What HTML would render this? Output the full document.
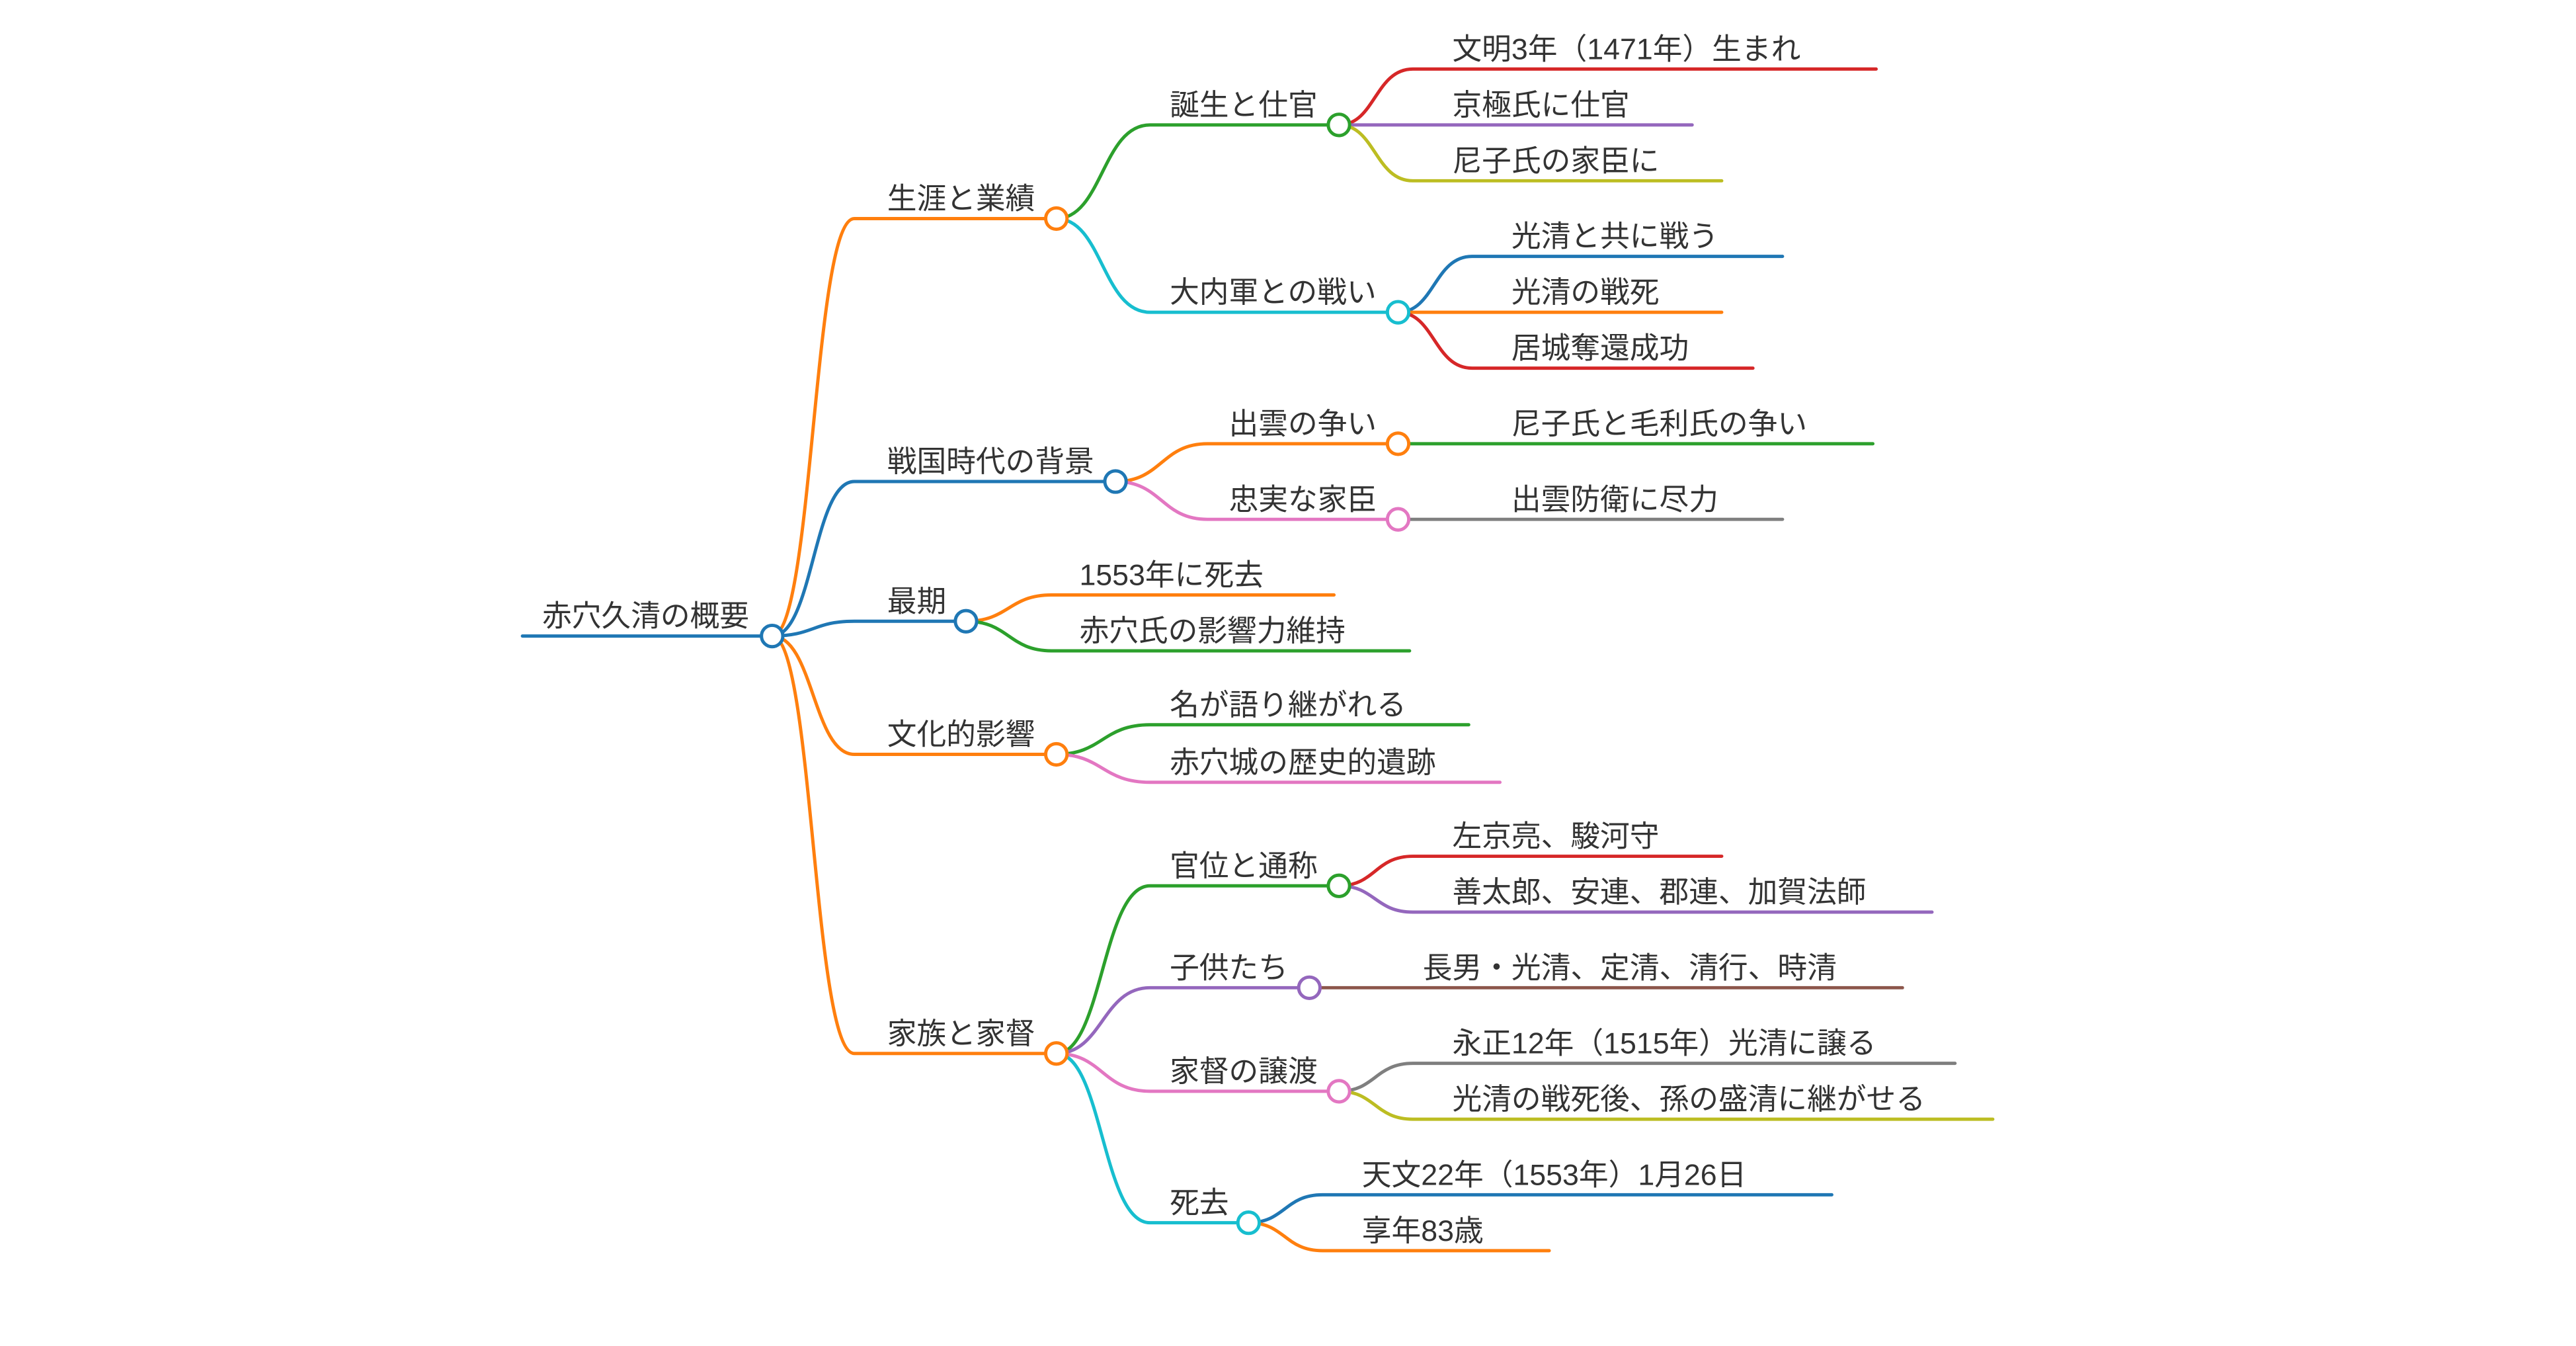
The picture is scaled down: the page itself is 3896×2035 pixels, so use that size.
<!DOCTYPE html>
<html><head><meta charset="utf-8"><style>
html,body{margin:0;padding:0;background:#fff;}
svg{display:block;}
text{font-family:"Liberation Sans","Noto Sans CJK JP",sans-serif;font-size:18px;fill:#333;}
path{fill:none;stroke-width:2;stroke-linecap:round;}
circle{fill:#fff;stroke-width:2;}
</style></head><body>
<svg width="3896" height="2035" viewBox="0 0 1568 819" preserveAspectRatio="none" xmlns="http://www.w3.org/2000/svg">
<!-- root -->
<path d="M318 387 H470" stroke="#1f77b4"/>
<text x="330" y="381">赤穴久清の概要</text>

<!-- level1 edges -->
<path d="M470 387 C495 387,495 133,520 133 H643" stroke="#ff7f0e"/>
<path d="M470 387 C495 387,495 293,520 293 H679" stroke="#1f77b4"/>
<path d="M470 387 C495 387,495 378,520 378 H588" stroke="#1f77b4"/>
<path d="M470 387 C495 387,495 459,520 459 H643" stroke="#ff7f0e"/>
<path d="M470 387 C495 387,495 641,520 641 H643" stroke="#ff7f0e"/>
<text x="540" y="127">生涯と業績</text>
<text x="540" y="287">戦国時代の背景</text>
<text x="540" y="372">最期</text>
<text x="540" y="453">文化的影響</text>
<text x="540" y="635">家族と家督</text>

<!-- 生涯と業績 children -->
<path d="M643 133 C671 133,671 76,700 76 H815" stroke="#2ca02c"/>
<path d="M643 133 C671 133,671 190,700 190 H851" stroke="#17becf"/>
<text x="712" y="70">誕生と仕官</text>
<text x="712" y="184">大内軍との戦い</text>
<path d="M815 76 C837 76,837 42,860 42 H1142" stroke="#d62728"/>
<path d="M815 76 H1030" stroke="#9467bd"/>
<path d="M815 76 C837 76,837 110,860 110 H1048" stroke="#bcbd22"/>
<text x="884" y="36">文明3年（1471年）生まれ</text>
<text x="884" y="70">京極氏に仕官</text>
<text x="884" y="104">尼子氏の家臣に</text>
<path d="M851 190 C873 190,873 156,896 156 H1085" stroke="#1f77b4"/>
<path d="M851 190 H1048" stroke="#ff7f0e"/>
<path d="M851 190 C873 190,873 224,896 224 H1067" stroke="#d62728"/>
<text x="920" y="150">光清と共に戦う</text>
<text x="920" y="184">光清の戦死</text>
<text x="920" y="218">居城奪還成功</text>

<!-- 戦国時代の背景 -->
<path d="M679 293 C707 293,707 270,735 270 H851" stroke="#ff7f0e"/>
<path d="M679 293 C707 293,707 316,735 316 H851" stroke="#e377c2"/>
<text x="748" y="264">出雲の争い</text>
<text x="748" y="310">忠実な家臣</text>
<path d="M851 270 H1140" stroke="#2ca02c"/>
<path d="M851 316 H1085" stroke="#7f7f7f"/>
<text x="920" y="264">尼子氏と毛利氏の争い</text>
<text x="920" y="310">出雲防衛に尽力</text>

<!-- 最期 -->
<path d="M588 378 C614 378,614 362,640 362 H812" stroke="#ff7f0e"/>
<path d="M588 378 C614 378,614 396,640 396 H858" stroke="#2ca02c"/>
<text x="657" y="356">1553年に死去</text>
<text x="657" y="390">赤穴氏の影響力維持</text>

<!-- 文化的影響 -->
<path d="M643 459 C671 459,671 441,700 441 H894" stroke="#2ca02c"/>
<path d="M643 459 C671 459,671 476,700 476 H913" stroke="#e377c2"/>
<text x="712" y="435">名が語り継がれる</text>
<text x="712" y="470">赤穴城の歴史的遺跡</text>

<!-- 家族と家督 -->
<path d="M643 641 C671 641,671 539,700 539 H815" stroke="#2ca02c"/>
<path d="M643 641 C671 641,671 601,700 601 H797" stroke="#9467bd"/>
<path d="M643 641 C671 641,671 664,700 664 H815" stroke="#e377c2"/>
<path d="M643 641 C671 641,671 744,700 744 H760" stroke="#17becf"/>
<text x="712" y="533">官位と通称</text>
<text x="712" y="595">子供たち</text>
<text x="712" y="658">家督の譲渡</text>
<text x="712" y="738">死去</text>
<path d="M815 539 C837 539,837 521,860 521 H1048" stroke="#d62728"/>
<path d="M815 539 C837 539,837 555,860 555 H1176" stroke="#9467bd"/>
<text x="884" y="515">左京亮、駿河守</text>
<text x="884" y="549">善太郎、安連、郡連、加賀法師</text>
<path d="M797 601 H1158" stroke="#8c564b"/>
<text x="866" y="595">長男・光清、定清、清行、時清</text>
<path d="M815 664 C837 664,837 647,860 647 H1190" stroke="#7f7f7f"/>
<path d="M815 664 C837 664,837 681,860 681 H1213" stroke="#bcbd22"/>
<text x="884" y="641">永正12年（1515年）光清に譲る</text>
<text x="884" y="675">光清の戦死後、孫の盛清に継がせる</text>
<path d="M760 744 C782 744,782 727,805 727 H1115" stroke="#1f77b4"/>
<path d="M760 744 C782 744,782 761,805 761 H943" stroke="#ff7f0e"/>
<text x="829" y="721">天文22年（1553年）1月26日</text>
<text x="829" y="755">享年83歳</text>

<!-- circles -->
<circle cx="470" cy="387" r="6.5" stroke="#1f77b4"/>
<circle cx="643" cy="133" r="6.5" stroke="#ff7f0e"/>
<circle cx="679" cy="293" r="6.5" stroke="#1f77b4"/>
<circle cx="588" cy="378" r="6.5" stroke="#1f77b4"/>
<circle cx="643" cy="459" r="6.5" stroke="#ff7f0e"/>
<circle cx="643" cy="641" r="6.5" stroke="#ff7f0e"/>
<circle cx="815" cy="76" r="6.5" stroke="#2ca02c"/>
<circle cx="851" cy="190" r="6.5" stroke="#17becf"/>
<circle cx="851" cy="270" r="6.5" stroke="#ff7f0e"/>
<circle cx="851" cy="316" r="6.5" stroke="#e377c2"/>
<circle cx="815" cy="539" r="6.5" stroke="#2ca02c"/>
<circle cx="797" cy="601" r="6.5" stroke="#9467bd"/>
<circle cx="815" cy="664" r="6.5" stroke="#e377c2"/>
<circle cx="760" cy="744" r="6.5" stroke="#17becf"/>
</svg>
</body></html>
